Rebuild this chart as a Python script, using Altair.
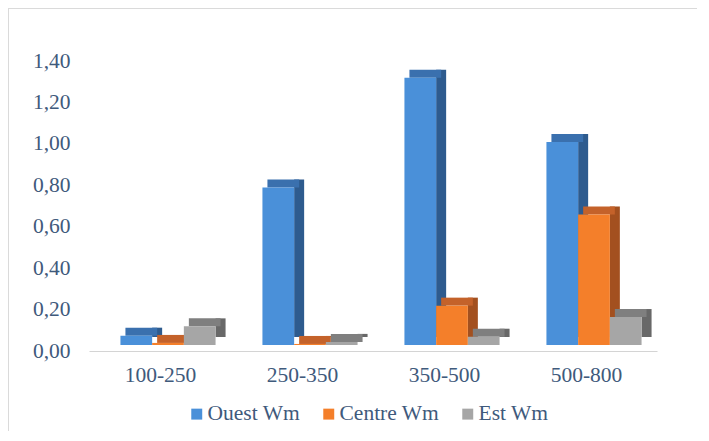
import altair as alt
import pandas as pd

categories = ["100-250", "250-350", "350-500", "500-800"]
series = ["Ouest Wm", "Centre Wm", "Est Wm"]
ouest = [0.045, 0.76, 1.29, 0.98]
centre = [0.01, 0.005, 0.19, 0.63]
est = [0.09, 0.015, 0.04, 0.135]
y_ticks = [0, 0.2, 0.4, 0.6, 0.8, 1.0, 1.2, 1.4]

front_colors = ["#4A90D9", "#F47F2A", "#A6A6A6"]
top_colors = ["#3A70AE", "#C4622A", "#7F7F7F"]
side_colors = ["#2E5B8E", "#A3501F", "#686868"]

rows = []
for s, vals in zip(series, [ouest, centre, est]):
    for c, v in zip(categories, vals):
        rows.append({"cat": c, "series": s, "value": v})
df = pd.DataFrame(rows)

FONT = "Liberation Serif"
FS = 21.5
TXT = "#3F5A7C"
SHIFT = 8       # horizontal shift of front faces
LIFT = -6       # vertical lift of front faces
DX, DY = 10, 8  # depth of 3D boxes
GROUP = 0.67    # share of a category slot taken by its bars

cat_list = "[" + ",".join("'%s'" % c for c in categories) + "]"
ser_list = "[" + ",".join("'%s'" % s for s in series) + "]"

x_scale = alt.Scale(domain=[0, len(categories)], nice=False, zero=False)
x_axis = alt.Axis(title=None, values=[i + 0.5 for i in range(len(categories))],
                  labelExpr=cat_list + "[floor(datum.value)]",
                  ticks=False, grid=False, domain=True,
                  domainColor="#D4D4D4", domainWidth=1.2,
                  labelFont=FONT, labelFontSize=FS, labelColor=TXT,
                  labelPadding=13, labelFlush=False)
y_enc = alt.Y("value:Q", scale=alt.Scale(domain=[0, 1.4], nice=False),
              axis=alt.Axis(title=None, values=y_ticks, domain=False, ticks=False,
                            grid=False, labelFont=FONT, labelFontSize=FS,
                            labelColor=TXT, labelPadding=19,
                            labelExpr="replace(format(datum.value, '.2f'), '.', ',')"))
y_zero = alt.Y2(datum=0)

base = alt.Chart(df).transform_calculate(
    ci="indexof(" + cat_list + ", datum.cat)",
    si="indexof(" + ser_list + ", datum.series)",
).transform_calculate(
    x0="datum.ci + 0.5 - %f + datum.si * %f" % (GROUP / 2, GROUP / 3),
).transform_calculate(
    x1="datum.x0 + %f" % (GROUP / 3),
)

def col(rng, legend=None):
    return alt.Color("series:N", sort=series,
                     scale=alt.Scale(domain=series, range=rng), legend=legend)

side = base.mark_bar(xOffset=SHIFT, x2Offset=SHIFT + DX,
                     yOffset=LIFT - DY, y2Offset=LIFT - DY).encode(
    x=alt.X("x1:Q", scale=x_scale, axis=x_axis), x2=alt.X2("x1:Q"),
    y=y_enc, y2=y_zero, color=col(side_colors))

top = base.mark_bar(xOffset=SHIFT + DX / 2, x2Offset=SHIFT + DX / 2,
                    yOffset=LIFT - DY, y2Offset=LIFT).encode(
    x=alt.X("x0:Q", scale=x_scale, axis=x_axis), x2="x1:Q",
    y=y_enc, y2="value:Q", color=col(top_colors))

legend = alt.Legend(title=None, orient="none", direction="horizontal",
                    legendX=97, legendY=342,
                    symbolType="square", symbolSize=120, symbolStrokeWidth=0,
                    labelFont=FONT, labelFontSize=FS, labelColor=TXT,
                    labelOffset=0, columnPadding=17, padding=0)

front = base.mark_bar(xOffset=SHIFT, x2Offset=SHIFT,
                      yOffset=LIFT, y2Offset=LIFT).encode(
    x=alt.X("x0:Q", scale=x_scale, axis=x_axis), x2="x1:Q",
    y=y_enc, y2=y_zero, color=col(front_colors, legend))

border_data = alt.Data(values=[{"k": 1}])
left_border = alt.Chart(border_data).mark_rule(color="#DADADA", strokeWidth=1).encode(
    x=alt.value(-80.5), y=alt.value(-53), y2=alt.value(380))
top_border = alt.Chart(border_data).mark_rule(color="#DADADA", strokeWidth=1).encode(
    x=alt.value(-81), x2=alt.value(620), y=alt.value(-52.5))

chart = alt.layer(left_border, top_border, side, top, front).resolve_scale(
    color="independent"
).properties(
    width=568, height=290,
    autosize=alt.AutoSizeParams(type="none"),
    padding={"left": 81, "top": 53, "right": 40, "bottom": 80},
).configure_view(stroke=None)

chart.save("out.html", embed_options={"renderer": "svg", "actions": False})
